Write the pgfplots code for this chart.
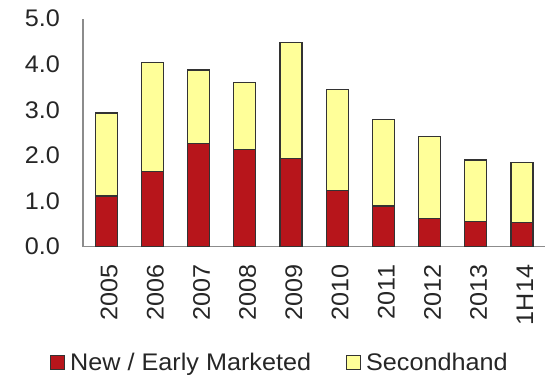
\documentclass[border=0pt]{standalone}
\usepackage{pgfplots}
\pgfplotsset{compat=1.18}
\usepackage{fontspec}
\setmainfont{Liberation Sans}[FakeStretch=1.05]

\definecolor{newred}{RGB}{183,21,27}
\definecolor{seconds}{RGB}{255,255,153}
\definecolor{edge}{RGB}{51,51,51}
\definecolor{axisgray}{RGB}{140,140,140}

\begin{document}
\begin{tikzpicture}[font=\fontsize{24bp}{28bp}\selectfont]
\useasboundingbox (-83bp,-130.3bp) rectangle (465bp,246.7bp);
\begin{axis}[
  scale only axis,
  width=462bp, height=228.2bp,
  ybar stacked, bar width=22bp,
  xmin=-0.5, xmax=9.5, ymin=0, ymax=5,
  xtick=data,
  xticklabels={2005,2006,2007,2008,2009,2010,2011,2012,2013,1H14},
  ytick={0,1,2,3,4,5},
  yticklabel={\pgfmathprintnumber[fixed,fixed zerofill,precision=1]{\tick}},
  /pgf/number format/assume math mode=true,
  axis x line*=bottom, axis y line*=left,
  axis line style={draw=axisgray, line width=1.2bp, -},
  major tick length=0pt,
  tick label style={text=black!85, inner sep=0pt},
  yticklabel shift=23bp,
  xticklabel shift=18bp,
  xticklabel style={xshift=3bp, rotate=90, anchor=east},
  legend columns=2,
  legend style={at={(-0.0714,-0.506)}, anchor=west, draw=none, fill=none,
    inner sep=0pt, nodes={inner sep=0pt, text=black!85},
    /tikz/every odd column/.append style={column sep=5bp},
    /tikz/every even column/.append style={column sep=35bp}},
  legend image code/.code={\draw[#1, line width=1bp] (0bp,-7bp) rectangle (14bp,7bp);},
]
\addplot[fill=newred, draw=edge, line width=1.2bp] coordinates {
  (0,1.11) (1,1.64) (2,2.26) (3,2.13) (4,1.93)
  (5,1.23) (6,0.89) (7,0.62) (8,0.55) (9,0.53)};
\addlegendentry{New / Early Marketed}
\addplot[fill=seconds, draw=edge, line width=1.2bp] coordinates {
  (0,1.82) (1,2.40) (2,1.61) (3,1.47) (4,2.55)
  (5,2.22) (6,1.89) (7,1.79) (8,1.35) (9,1.31)};
\addlegendentry{Secondhand}
\end{axis}
\end{tikzpicture}
\end{document}
